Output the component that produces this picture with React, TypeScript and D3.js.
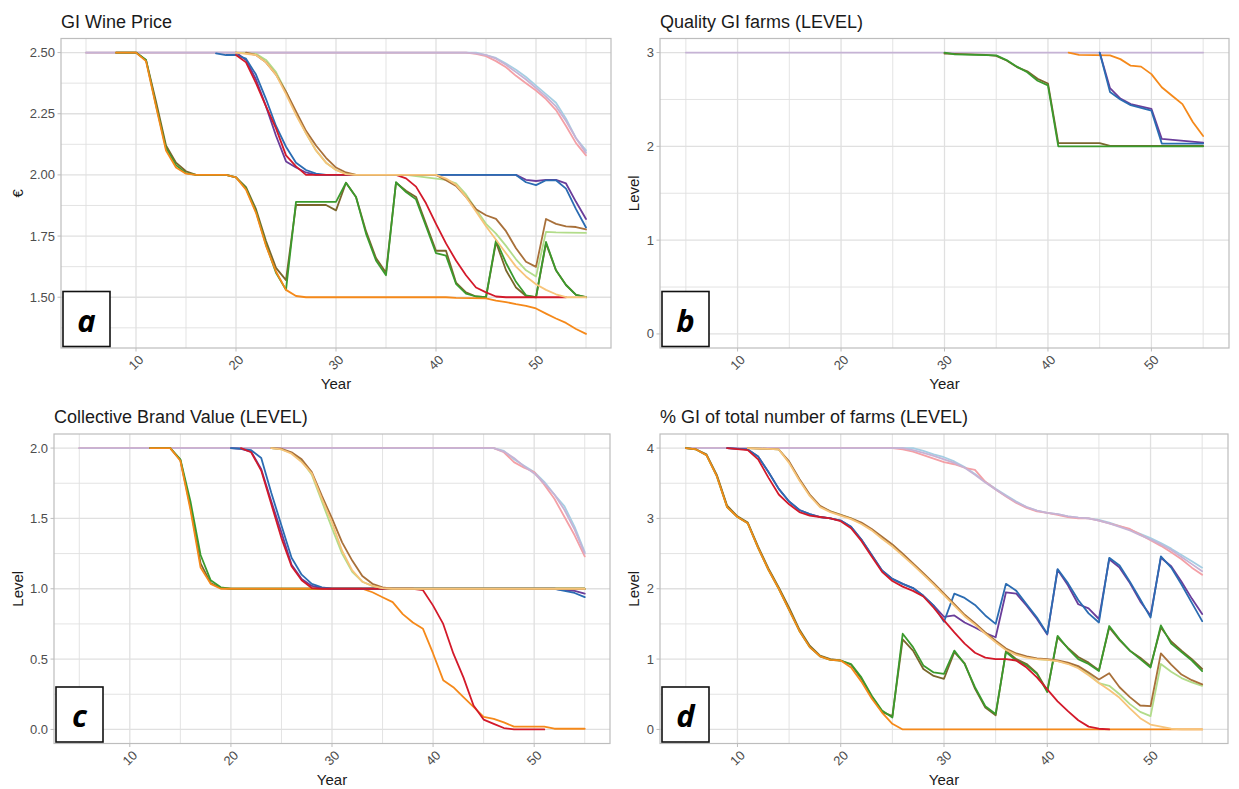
import React from "react";
import * as d3 from "d3";

type Pt = [number, number];

// ---------- axis ticks ----------
const yearDomain: [number, number] = [2.5, 57.5];
const yearMajor = [10, 20, 30, 40, 50];
const yearMinor = [5, 15, 25, 35, 45, 55];

const priceTicks = [1.5, 1.75, 2.0, 2.25, 2.5];
const priceMinor = [1.375, 1.625, 1.875, 2.125, 2.375];
const qualityTicks = [0, 1, 2, 3];
const qualityMinor = [0.5, 1.5, 2.5];
const brandTicks = [0, 0.5, 1.0, 1.5, 2.0];
const brandMinor = [0.25, 0.75, 1.25, 1.75];
const shareTicks = [0, 1, 2, 3, 4];
const shareMinor = [0.5, 1.5, 2.5, 3.5];

// ---------- panel a: GI Wine Price ----------
const priceLightblue: Pt[] = [[5,2.5],[44,2.5],[45,2.49],[46,2.478],[47,2.455],[48,2.43],[49,2.4],[50,2.365],[51,2.33],[52,2.295],[53,2.23],[54,2.15],[55,2.1]];
const pricePink: Pt[] = [[5,2.5],[43,2.5],[44,2.495],[45,2.485],[46,2.465],[47,2.44],[48,2.405],[49,2.375],[50,2.345],[51,2.31],[52,2.265],[53,2.2],[54,2.13],[55,2.08]];
const priceLavender: Pt[] = [[5,2.5],[43,2.5],[44,2.497],[45,2.49],[46,2.475],[47,2.45],[48,2.42],[49,2.39],[50,2.355],[51,2.32],[52,2.28],[53,2.22],[54,2.15],[55,2.09]];
const priceOlive: Pt[] = [[8,2.5],[10,2.5],[11,2.47],[12,2.3],[13,2.12],[14,2.05],[15,2.015],[16,2.0],[19,2.0],[20,1.99],[21,1.95],[22,1.86],[23,1.73],[24,1.62],[25,1.57],[26,1.877],[29,1.877],[30,1.855],[31,1.968],[32,1.91],[33,1.77],[34,1.66],[35,1.6],[36,1.968],[37,1.935],[38,1.91],[39,1.8],[40,1.69],[41,1.69],[42,1.56],[43,1.52],[44,1.503],[45,1.5],[46,1.725],[47,1.61],[48,1.54],[49,1.505],[50,1.5],[51,1.72],[52,1.61],[53,1.55],[54,1.51],[55,1.5]];
const priceGreen: Pt[] = [[8,2.5],[10,2.5],[11,2.47],[12,2.285],[13,2.11],[14,2.04],[15,2.007],[16,2.0],[19,2.0],[20,1.99],[21,1.945],[22,1.85],[23,1.715],[24,1.6],[25,1.53],[26,1.89],[30,1.89],[31,1.968],[32,1.91],[33,1.76],[34,1.65],[35,1.59],[36,1.97],[37,1.93],[38,1.9],[39,1.79],[40,1.68],[41,1.67],[42,1.555],[43,1.515],[44,1.503],[45,1.5],[46,1.733],[47,1.64],[48,1.563],[49,1.508],[50,1.5],[51,1.726],[52,1.61],[53,1.55],[54,1.51],[55,1.5]];
const priceOrange: Pt[] = [[8,2.5],[10,2.5],[11,2.465],[12,2.28],[13,2.1],[14,2.03],[15,2.005],[16,2.0],[19,2.0],[20,1.99],[21,1.94],[22,1.845],[23,1.71],[24,1.605],[25,1.53],[26,1.505],[27,1.5],[41,1.5],[42,1.497],[45,1.495],[46,1.486],[47,1.48],[48,1.472],[49,1.465],[50,1.454],[51,1.433],[52,1.413],[53,1.395],[54,1.37],[55,1.35]];
const pricePurple: Pt[] = [[20,2.5],[21,2.47],[22,2.39],[23,2.28],[24,2.16],[25,2.055],[26,2.03],[27,2.01],[28,2.0],[48,2.0],[49,1.98],[50,1.975],[51,1.98],[52,1.98],[53,1.965],[54,1.89],[55,1.82]];
const priceBlue: Pt[] = [[18,2.497],[19,2.49],[20,2.49],[21,2.475],[22,2.41],[23,2.31],[24,2.2],[25,2.115],[26,2.05],[27,2.02],[28,2.005],[29,2.0],[48,2.0],[49,1.97],[50,1.958],[51,1.978],[52,1.978],[53,1.944],[54,1.86],[55,1.785]];
const priceRed: Pt[] = [[20,2.49],[21,2.46],[22,2.375],[23,2.28],[24,2.19],[25,2.08],[26,2.035],[27,2.0],[36,2.0],[37,1.986],[38,1.952],[39,1.884],[40,1.8],[41,1.72],[42,1.65],[43,1.59],[44,1.54],[45,1.52],[46,1.503],[47,1.5],[53,1.5]];
const priceLightgreen: Pt[] = [[20,2.5],[22,2.495],[23,2.47],[24,2.42],[25,2.34],[26,2.25],[27,2.17],[28,2.1],[29,2.05],[30,2.02],[31,2.005],[32,2.0],[37,2.0],[38,1.995],[39,1.99],[40,1.985],[41,1.98],[42,1.965],[43,1.92],[44,1.86],[45,1.8],[46,1.76],[47,1.71],[48,1.655],[49,1.61],[50,1.585],[51,1.767],[52,1.765],[53,1.764],[55,1.763]];
const priceLightorange: Pt[] = [[20,2.5],[22,2.49],[23,2.46],[24,2.41],[25,2.33],[26,2.245],[27,2.17],[28,2.1],[29,2.05],[30,2.02],[31,2.003],[32,2.0],[40,2.0],[41,1.985],[42,1.96],[43,1.91],[44,1.85],[45,1.79],[46,1.735],[47,1.68],[48,1.625],[49,1.585],[50,1.553],[51,1.53],[52,1.512],[53,1.5],[55,1.5]];
const priceBrown: Pt[] = [[21,2.5],[22,2.49],[23,2.46],[24,2.41],[25,2.34],[26,2.26],[27,2.18],[28,2.12],[29,2.07],[30,2.03],[31,2.01],[32,2.0],[40,2.0],[41,1.978],[42,1.955],[43,1.91],[44,1.86],[45,1.835],[46,1.82],[47,1.77],[48,1.7],[49,1.645],[50,1.624],[51,1.82],[52,1.8],[53,1.79],[54,1.787],[55,1.777]];

// ---------- panel b: Quality GI farms ----------
const qualityLavender: Pt[] = [[5,3],[55,3]];
const qualityOlive: Pt[] = [[30,2.99],[31,2.985],[34,2.975],[35,2.965],[36,2.915],[37,2.845],[38,2.8],[39,2.72],[40,2.67],[41,2.035],[45,2.035],[46,2.005],[55,2.005]];
const qualityGreen: Pt[] = [[30,3.0],[31,2.98],[35,2.97],[36,2.92],[37,2.85],[38,2.79],[39,2.7],[40,2.65],[41,2.0],[55,2.0]];
const qualityOrange: Pt[] = [[42,3.0],[43,2.975],[46,2.97],[47,2.93],[48,2.86],[49,2.85],[50,2.77],[51,2.63],[52,2.54],[53,2.45],[54,2.26],[55,2.11]];
const qualityPurple: Pt[] = [[45,3.0],[46,2.62],[47,2.51],[48,2.45],[50,2.4],[51,2.08],[55,2.04]];
const qualityBlue: Pt[] = [[45,3.0],[46,2.58],[47,2.5],[48,2.44],[50,2.38],[51,2.03],[55,2.03]];

// ---------- panel c: Collective Brand Value ----------
const brandLightblue: Pt[] = [[5,2],[46,2],[47,1.98],[48,1.92],[49,1.875],[50,1.83],[51,1.76],[52,1.67],[53,1.585],[54,1.44],[55,1.26]];
const brandPink: Pt[] = [[5,2],[46,2],[47,1.97],[48,1.9],[49,1.86],[50,1.83],[51,1.74],[52,1.64],[53,1.51],[54,1.38],[55,1.23]];
const brandLavender: Pt[] = [[5,2],[46,2],[47,1.975],[48,1.93],[49,1.87],[50,1.82],[51,1.75],[52,1.67],[53,1.56],[54,1.42],[55,1.25]];
const brandOlive: Pt[] = [[12,2.0],[14,2.0],[15,1.915],[16,1.58],[17,1.18],[18,1.04],[19,1.005],[20,1.0],[55,1.0]];
const brandGreen: Pt[] = [[12,2.0],[14,2.0],[15,1.92],[16,1.62],[17,1.24],[18,1.06],[19,1.01],[20,1.0],[55,1.0]];
const brandOrange: Pt[] = [[12,2.0],[14,2.0],[15,1.91],[16,1.56],[17,1.15],[18,1.035],[19,1.0],[33,1.0],[34,0.975],[35,0.94],[36,0.905],[37,0.82],[38,0.76],[39,0.715],[40,0.54],[41,0.35],[42,0.3],[43,0.23],[44,0.16],[45,0.09],[46,0.075],[47,0.05],[48,0.02],[51,0.02],[52,0.005],[55,0.005]];
const brandPurple: Pt[] = [[20,2.0],[21,1.995],[22,1.975],[23,1.85],[24,1.62],[25,1.4],[26,1.17],[27,1.07],[28,1.02],[29,1.005],[30,1.0],[52,1.0],[53,0.99],[54,0.985],[55,0.965]];
const brandBlue: Pt[] = [[20,2.0],[21,1.995],[22,1.985],[23,1.93],[24,1.68],[25,1.45],[26,1.22],[27,1.1],[28,1.035],[29,1.01],[30,1.0],[52,1.0],[53,0.985],[54,0.97],[55,0.94]];
const brandRed: Pt[] = [[21,2.0],[22,1.97],[23,1.84],[24,1.6],[25,1.36],[26,1.16],[27,1.06],[28,1.005],[29,1.0],[38,1.0],[39,0.99],[40,0.88],[41,0.75],[42,0.54],[43,0.37],[44,0.17],[45,0.07],[46,0.04],[47,0.01],[48,0.0],[51,0.0]];
const brandLightgreen: Pt[] = [[24,2.0],[25,1.99],[26,1.965],[27,1.91],[28,1.81],[29,1.62],[30,1.43],[31,1.25],[32,1.12],[33,1.05],[34,1.02],[35,1.005],[36,1.0],[55,1.0]];
const brandLightorange: Pt[] = [[24,2.0],[25,1.99],[26,1.96],[27,1.9],[28,1.82],[29,1.64],[30,1.47],[31,1.27],[32,1.13],[33,1.05],[34,1.02],[35,1.005],[36,1.0],[55,1.0]];
const brandBrown: Pt[] = [[24,2.0],[25,1.995],[26,1.97],[27,1.92],[28,1.83],[29,1.66],[30,1.5],[31,1.33],[32,1.2],[33,1.09],[34,1.035],[35,1.01],[36,1.0],[55,1.0]];

// ---------- panel d: % GI of total number of farms ----------
const shareLightblue: Pt[] = [[5,4],[27,4],[28,3.96],[29,3.91],[30,3.87],[31,3.81],[32,3.73],[33,3.63],[34,3.52],[35,3.42],[36,3.33],[37,3.24],[38,3.16],[39,3.11],[40,3.08],[41,3.06],[42,3.03],[43,3.01],[44,3.0],[45,2.98],[46,2.94],[47,2.89],[48,2.84],[49,2.78],[50,2.72],[51,2.65],[52,2.57],[53,2.48],[54,2.39],[55,2.3]];
const sharePink: Pt[] = [[5,4],[25,4],[26,3.98],[27,3.95],[28,3.9],[29,3.85],[30,3.8],[31,3.77],[32,3.72],[33,3.69],[34,3.52],[35,3.41],[36,3.31],[37,3.22],[38,3.15],[39,3.1],[40,3.08],[41,3.05],[42,3.02],[43,3.0],[44,3.0],[45,2.97],[46,2.93],[47,2.89],[48,2.85],[49,2.77],[50,2.69],[51,2.61],[52,2.52],[53,2.42],[54,2.3],[55,2.2]];
const shareLavender: Pt[] = [[5,4],[26,4],[27,3.97],[28,3.93],[29,3.89],[30,3.84],[31,3.79],[32,3.72],[33,3.62],[34,3.51],[35,3.41],[36,3.32],[37,3.23],[38,3.16],[39,3.11],[40,3.08],[41,3.06],[42,3.03],[43,3.01],[44,3.0],[45,2.97],[46,2.93],[47,2.88],[48,2.83],[49,2.76],[50,2.7],[51,2.63],[52,2.55],[53,2.45],[54,2.35],[55,2.25]];
const shareOlive: Pt[] = [[5,4],[6,3.98],[7,3.91],[8,3.62],[9,3.18],[10,3.03],[11,2.94],[12,2.6],[13,2.29],[14,2.02],[15,1.73],[16,1.42],[17,1.19],[18,1.05],[19,1.0],[20,0.98],[21,0.92],[22,0.72],[23,0.47],[24,0.25],[25,0.19],[26,1.28],[27,1.12],[28,0.86],[29,0.76],[30,0.72],[31,1.1],[32,0.94],[33,0.58],[34,0.31],[35,0.2],[36,1.12],[37,1.0],[38,0.93],[39,0.8],[40,0.55],[41,1.31],[42,1.16],[43,1.03],[44,0.95],[45,0.84],[46,1.45],[47,1.27],[48,1.12],[49,1.02],[50,0.9],[51,1.45],[52,1.25],[53,1.12],[54,1.0],[55,0.86]];
const shareGreen: Pt[] = [[5,4],[6,3.98],[7,3.9],[8,3.6],[9,3.16],[10,3.02],[11,2.93],[12,2.58],[13,2.27],[14,2.0],[15,1.7],[16,1.4],[17,1.17],[18,1.04],[19,0.99],[20,0.98],[21,0.93],[22,0.74],[23,0.48],[24,0.27],[25,0.17],[26,1.36],[27,1.17],[28,0.91],[29,0.81],[30,0.79],[31,1.12],[32,0.93],[33,0.6],[34,0.33],[35,0.22],[36,1.1],[37,0.98],[38,0.91],[39,0.79],[40,0.53],[41,1.33],[42,1.15],[43,1.0],[44,0.93],[45,0.83],[46,1.47],[47,1.28],[48,1.12],[49,1.0],[50,0.88],[51,1.48],[52,1.22],[53,1.1],[54,0.98],[55,0.83]];
const shareOrange: Pt[] = [[5,4],[6,3.98],[7,3.9],[8,3.6],[9,3.16],[10,3.02],[11,2.93],[12,2.58],[13,2.27],[14,2.0],[15,1.7],[16,1.4],[17,1.17],[18,1.04],[19,0.99],[20,0.98],[21,0.88],[22,0.68],[23,0.44],[24,0.24],[25,0.08],[26,0.0],[55,0.0]];
const sharePurple: Pt[] = [[9,4],[11,3.98],[12,3.88],[13,3.66],[14,3.42],[15,3.24],[16,3.12],[17,3.06],[18,3.02],[19,3.0],[20,2.97],[21,2.88],[22,2.7],[23,2.48],[24,2.26],[25,2.14],[26,2.07],[27,2.01],[28,1.9],[29,1.76],[30,1.6],[31,1.62],[32,1.52],[33,1.45],[34,1.37],[35,1.31],[36,1.95],[37,1.93],[38,1.76],[39,1.57],[40,1.35],[41,2.27],[42,2.05],[43,1.78],[44,1.72],[45,1.57],[46,2.42],[47,2.3],[48,2.08],[49,1.82],[50,1.62],[51,2.44],[52,2.32],[53,2.1],[54,1.86],[55,1.64]];
const shareBlue: Pt[] = [[9,4],[11,3.98],[12,3.88],[13,3.66],[14,3.42],[15,3.24],[16,3.12],[17,3.06],[18,3.02],[19,3.0],[20,2.97],[21,2.88],[22,2.7],[23,2.48],[24,2.26],[25,2.14],[26,2.07],[27,2.01],[28,1.9],[29,1.76],[30,1.53],[31,1.93],[32,1.87],[33,1.77],[34,1.62],[35,1.5],[36,2.07],[37,1.97],[38,1.78],[39,1.59],[40,1.36],[41,2.28],[42,2.08],[43,1.84],[44,1.65],[45,1.52],[46,2.44],[47,2.33],[48,2.1],[49,1.85],[50,1.59],[51,2.46],[52,2.3],[53,2.06],[54,1.8],[55,1.54]];
const shareRed: Pt[] = [[9,4],[11,3.97],[12,3.84],[13,3.58],[14,3.34],[15,3.2],[16,3.09],[17,3.04],[18,3.02],[19,3.0],[20,2.96],[21,2.86],[22,2.68],[23,2.46],[24,2.24],[25,2.11],[26,2.03],[27,1.97],[28,1.89],[29,1.73],[30,1.55],[31,1.38],[32,1.22],[33,1.09],[34,1.02],[35,1.0],[36,1.0],[37,0.98],[38,0.88],[39,0.74],[40,0.57],[41,0.4],[42,0.26],[43,0.13],[44,0.04],[45,0.01],[46,0.0]];
const shareLightgreen: Pt[] = [[11,4],[14,3.98],[15,3.8],[16,3.55],[17,3.33],[18,3.17],[19,3.1],[20,3.05],[21,3.0],[22,2.93],[23,2.84],[24,2.73],[25,2.62],[26,2.48],[27,2.35],[28,2.21],[29,2.07],[30,1.92],[31,1.77],[32,1.62],[33,1.5],[34,1.37],[35,1.25],[36,1.14],[37,1.07],[38,1.03],[39,1.0],[40,0.99],[41,0.97],[42,0.94],[43,0.89],[44,0.79],[45,0.66],[46,0.62],[47,0.5],[48,0.36],[49,0.25],[50,0.19],[51,0.93],[52,0.82],[53,0.73],[54,0.67],[55,0.62]];
const shareLightorange: Pt[] = [[11,4],[14,3.98],[15,3.79],[16,3.54],[17,3.32],[18,3.16],[19,3.09],[20,3.04],[21,2.99],[22,2.92],[23,2.83],[24,2.71],[25,2.6],[26,2.47],[27,2.34],[28,2.2],[29,2.06],[30,1.91],[31,1.76],[32,1.61],[33,1.49],[34,1.36],[35,1.24],[36,1.13],[37,1.06],[38,1.02],[39,1.0],[40,0.99],[41,0.97],[42,0.93],[43,0.87],[44,0.77],[45,0.66],[46,0.56],[47,0.45],[48,0.3],[49,0.16],[50,0.07],[51,0.04],[52,0.01],[53,0.0],[55,0.0]];
const shareBrown: Pt[] = [[11,4],[14,3.98],[15,3.81],[16,3.56],[17,3.34],[18,3.18],[19,3.1],[20,3.05],[21,3.0],[22,2.94],[23,2.85],[24,2.74],[25,2.63],[26,2.5],[27,2.36],[28,2.22],[29,2.08],[30,1.93],[31,1.78],[32,1.63],[33,1.51],[34,1.38],[35,1.26],[36,1.15],[37,1.08],[38,1.04],[39,1.01],[40,1.0],[41,0.98],[42,0.95],[43,0.9],[44,0.81],[45,0.71],[46,0.8],[47,0.6],[48,0.46],[49,0.34],[50,0.33],[51,1.08],[52,0.92],[53,0.78],[54,0.7],[55,0.64]];

// ---------- styling (kept apart from the data) ----------
const seriesOrder = ["lightblue","pink","lavender","olive","green","orange","purple","blue","red","lightgreen","brown","lightorange"];
const seriesColors: Record<string, string> = {
  lightblue: "#a6cee3",
  pink: "#f4a0a6",
  lavender: "#c6b3d5",
  olive: "#7a662c",
  green: "#3b9a2d",
  orange: "#f5891a",
  purple: "#6a3d9a",
  blue: "#2b6cb2",
  red: "#d3192a",
  lightgreen: "#b2dc8a",
  lightorange: "#f7c47a",
  brown: "#a8703a",
};

type PanelDef = {
  title: string;
  yTitle: string;
  letter: string;
  domain: [number, number];
  ticks: number[];
  minor: number[];
  fmt: (v: number) => string;
  left: number; right: number; top: number; bottom: number;
  yTitleX: number;
  series: Record<string, Pt[]>;
};

const panels: PanelDef[] = [
  {
    title: "GI Wine Price", yTitle: "€", letter: "a",
    domain: [1.2925, 2.5575], ticks: priceTicks, minor: priceMinor, fmt: d3.format(".2f"),
    left: 61, right: 611, top: 38.5, bottom: 348, yTitleX: 18,
    series: { lightblue: priceLightblue, pink: pricePink, lavender: priceLavender, olive: priceOlive, green: priceGreen, orange: priceOrange, purple: pricePurple, blue: priceBlue, red: priceRed, lightgreen: priceLightgreen, lightorange: priceLightorange, brown: priceBrown },
  },
  {
    title: "Quality GI farms (LEVEL)", yTitle: "Level", letter: "b",
    domain: [-0.15, 3.15], ticks: qualityTicks, minor: qualityMinor, fmt: d3.format("d"),
    left: 660, right: 1229, top: 38.5, bottom: 348, yTitleX: 634,
    series: { lavender: qualityLavender, olive: qualityOlive, green: qualityGreen, orange: qualityOrange, purple: qualityPurple, blue: qualityBlue },
  },
  {
    title: "Collective Brand Value (LEVEL)", yTitle: "Level", letter: "c",
    domain: [-0.1, 2.1], ticks: brandTicks, minor: brandMinor, fmt: d3.format(".1f"),
    left: 54, right: 610, top: 434, bottom: 743.5, yTitleX: 18,
    series: { lightblue: brandLightblue, pink: brandPink, lavender: brandLavender, olive: brandOlive, green: brandGreen, orange: brandOrange, purple: brandPurple, blue: brandBlue, red: brandRed, lightgreen: brandLightgreen, lightorange: brandLightorange, brown: brandBrown },
  },
  {
    title: "% GI of total number of farms (LEVEL)", yTitle: "Level", letter: "d",
    domain: [-0.2, 4.2], ticks: shareTicks, minor: shareMinor, fmt: d3.format("d"),
    left: 660, right: 1228, top: 434, bottom: 743.5, yTitleX: 634,
    series: { lightblue: shareLightblue, pink: sharePink, lavender: shareLavender, olive: shareOlive, green: shareGreen, orange: shareOrange, purple: sharePurple, blue: shareBlue, red: shareRed, lightgreen: shareLightgreen, lightorange: shareLightorange, brown: shareBrown },
  },
];

const FONT = "'Liberation Sans', Arial, Helvetica, sans-serif";
const GRID = "#e0e0e0";
const BORDER = "#bdbdbd";

function Panel({ p }: { p: PanelDef }) {
  const x = d3.scaleLinear().domain(yearDomain).range([p.left, p.right]);
  const y = d3.scaleLinear().domain(p.domain).range([p.bottom, p.top]);
  const line = d3.line<Pt>().x((d) => x(d[0])).y((d) => y(d[1]));
  const midY = (p.top + p.bottom) / 2;
  const midX = (p.left + p.right) / 2;
  const boxW = 47, boxH = 55;
  const boxX = p.left + 2;
  const boxY = p.bottom - boxH - 1.5;
  return (
    <g>
      <text x={p.left} y={p.top - 11} fontFamily={FONT} fontSize={18} fill="#1a1a1a">{p.title}</text>
      {p.minor.map((v) => (
        <line key={"ym" + v} x1={p.left} x2={p.right} y1={y(v)} y2={y(v)} stroke={GRID} strokeWidth={0.9} />
      ))}
      {yearMinor.map((v) => (
        <line key={"xm" + v} x1={x(v)} x2={x(v)} y1={p.top} y2={p.bottom} stroke={GRID} strokeWidth={0.9} />
      ))}
      {p.ticks.map((v) => (
        <line key={"yM" + v} x1={p.left} x2={p.right} y1={y(v)} y2={y(v)} stroke={GRID} strokeWidth={1.3} />
      ))}
      {yearMajor.map((v) => (
        <line key={"xM" + v} x1={x(v)} x2={x(v)} y1={p.top} y2={p.bottom} stroke={GRID} strokeWidth={1.3} />
      ))}
      {seriesOrder.filter((k) => p.series[k]).map((k) => (
        <path key={k} d={line(p.series[k]) || ""} fill="none" stroke={seriesColors[k]} strokeWidth={1.8} strokeLinejoin="round" strokeLinecap="round" />
      ))}
      <rect x={p.left} y={p.top} width={p.right - p.left} height={p.bottom - p.top} fill="none" stroke={BORDER} strokeWidth={1.2} />
      {p.ticks.map((v) => (
        <g key={"yt" + v}>
          <line x1={p.left - 3.5} x2={p.left} y1={y(v)} y2={y(v)} stroke={BORDER} strokeWidth={1} />
          <text x={p.left - 6} y={y(v)} dy="0.35em" textAnchor="end" fontFamily={FONT} fontSize={13} fill="#4d4d4d">{p.fmt(v)}</text>
        </g>
      ))}
      {yearMajor.map((v) => (
        <g key={"xt" + v}>
          <line x1={x(v)} x2={x(v)} y1={p.bottom} y2={p.bottom + 3.5} stroke={BORDER} strokeWidth={1} />
          <text x={x(v)} y={p.bottom + 14.5} dy="0.35em" textAnchor="middle" fontFamily={FONT} fontSize={13} fill="#4d4d4d"
            transform={`rotate(-45, ${x(v)}, ${p.bottom + 14.5})`}>{v}</text>
        </g>
      ))}
      <text x={midX} y={p.bottom + 41} textAnchor="middle" fontFamily={FONT} fontSize={15} fill="#1a1a1a">Year</text>
      <text x={p.yTitleX} y={midY} textAnchor="middle" dy="0.35em" fontFamily={FONT} fontSize={15} fill="#1a1a1a"
        transform={`rotate(-90, ${p.yTitleX}, ${midY})`}>{p.yTitle}</text>
      <rect x={boxX} y={boxY} width={boxW} height={boxH} fill="#ffffff" stroke="#111111" strokeWidth={1.6} />
      <text x={boxX + boxW / 2} y={boxY + 40} textAnchor="middle" fontFamily="'Open Sans', 'Liberation Sans', sans-serif"
        fontStyle="italic" fontWeight={700} fontSize={31} fill="#000">{p.letter}</text>
    </g>
  );
}

export default function App() {
  return (
    <div style={{ position: "absolute", left: 0, top: 0, width: 1239, height: 789, background: "#fff" }}>
      <svg width={1239} height={789} viewBox="0 0 1239 789" style={{ display: "block" }}>
        <rect x={0} y={0} width={1239} height={789} fill="#ffffff" />
        {panels.map((p) => (
          <Panel key={p.letter} p={p} />
        ))}
      </svg>
    </div>
  );
}
